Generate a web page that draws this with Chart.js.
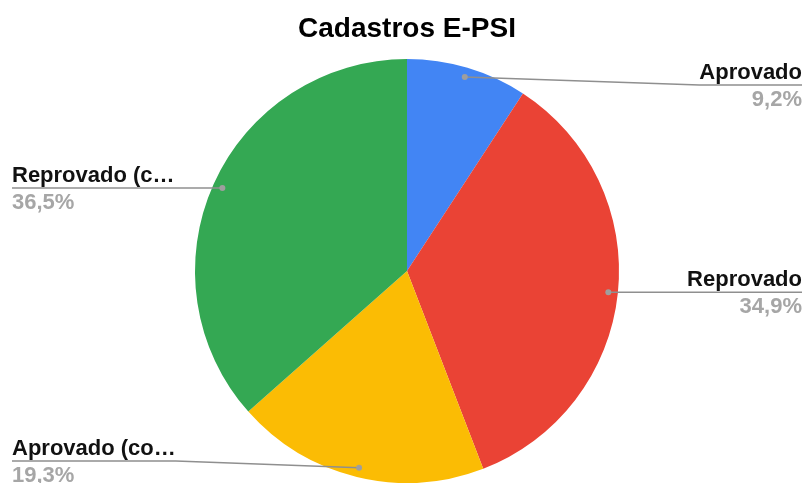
<!DOCTYPE html>
<html>
<head>
<meta charset="utf-8">
<script src="https://cdn.jsdelivr.net/npm/chart.js@4"></script>
<style>
  html, body { margin: 0; padding: 0; background: #fff; }
  #wrap { width: 806px; height: 483px; }
</style>
</head>
<body>
<div id="wrap"><canvas id="cadastros" width="806" height="483"></canvas></div>
<script>
"use strict";

// dados
const categorias = ["Aprovado", "Reprovado", "Aprovado (co…", "Reprovado (c…"];
const percentuais = [9.2, 34.9, 19.3, 36.5];
const cores = ["#4285F4", "#EA4335", "#FBBC04", "#34A853"];
const titulo = "Cadastros E-PSI";

const fonte = "'Liberation Sans', Arial, sans-serif";

/**
 * Desenha título e rótulos com linhas de chamada (estilo Google Sheets).
 */
const rotulos = {
    id: "rotulos",
    afterDraw(chart) {
        const ctx = chart.ctx;
        const meta = chart.getDatasetMeta(0);
        const W = chart.width;

        ctx.save();
        ctx.fillStyle = "#000";
        ctx.font = "bold 28px " + fonte;
        ctx.textAlign = "center";
        ctx.textBaseline = "alphabetic";
        ctx.fillText(titulo, 407, 37);

        meta.data.forEach((arc, i) => {
            const p = arc.getProps(["x", "y", "startAngle", "endAngle", "outerRadius"], true);
            const mid = (p.startAngle + p.endAngle) / 2;
            const dx = p.x + Math.cos(mid) * p.outerRadius * 0.955;
            const dy = p.y + Math.sin(mid) * p.outerRadius * 0.955;
            const direita = Math.cos(mid) >= 0;
            const linhaY = Math.min(Math.max(dy, 85), 461);

            const nome = categorias[i];
            const pct = percentuais[i].toFixed(1).replace(".", ",") + "%";
            ctx.font = "bold 22px " + fonte;
            const largura = Math.max(ctx.measureText(nome).width, ctx.measureText(pct).width);

            const borda = direita ? W - 4 : 12;
            const cotovelo = direita ? borda - largura : borda + largura;

            ctx.strokeStyle = "#8f8f8f";
            ctx.lineWidth = 1.5;
            ctx.beginPath();
            ctx.moveTo(dx, dy);
            ctx.lineTo(cotovelo, linhaY);
            ctx.lineTo(borda, linhaY);
            ctx.stroke();

            ctx.fillStyle = "#9e9e9e";
            ctx.beginPath();
            ctx.arc(dx, dy, 3, 0, Math.PI * 2);
            ctx.fill();

            ctx.textAlign = direita ? "right" : "left";
            ctx.fillStyle = "#111";
            ctx.fillText(nome, borda, linhaY - 6);
            ctx.fillStyle = "#a6a6a6";
            ctx.fillText(pct, borda, linhaY + 21);
        });
        ctx.restore();
    }
};

new Chart(document.getElementById("cadastros"), {
    type: "pie",
    data: {
        labels: categorias,
        datasets: [{
            data: percentuais,
            backgroundColor: cores,
            borderWidth: 0
        }]
    },
    options: {
        responsive: false,
        animation: false,
        layout: {
            padding: { top: 59, bottom: 0, left: 195, right: 187 }
        },
        plugins: {
            legend: { display: false },
            title: { display: false },
            tooltip: { enabled: false }
        }
    },
    plugins: [rotulos]
});
</script>
</body>
</html>
